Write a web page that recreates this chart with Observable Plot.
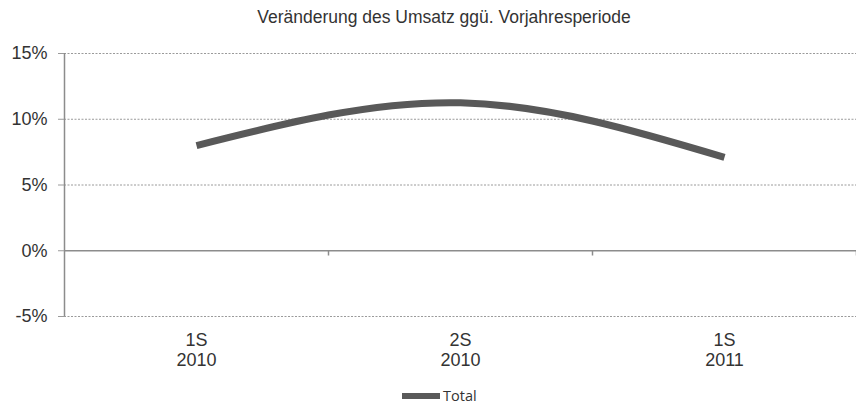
<!DOCTYPE html>
<html>
<head>
<meta charset="utf-8">
<script src="https://cdn.jsdelivr.net/npm/d3@7"></script>
<script src="https://cdn.jsdelivr.net/npm/@observablehq/plot@0.6"></script>
<style>
  body { margin: 0; background: #fff; font-family: "Liberation Sans", Arial, sans-serif; }
  #wrap { position: relative; width: 856px; height: 405px; }
  #title { position: absolute; left: 32px; top: 6px; width: 824px; text-align: center; font-size: 17.5px; color: #333; line-height: 22px; }
  #chart { position: absolute; left: 0; top: 34px; }
  #legend { position: absolute; left: 402px; top: 386px; display: flex; align-items: center; font-family: "Open Sans", "Liberation Sans", sans-serif; font-size: 14.5px; color: #333; line-height: 20px; }
  #legend .sw { display: inline-block; width: 38px; height: 6px; background: #595959; margin-right: 3px; }
</style>
</head>
<body>
<div id="wrap">
  <div id="title">Veränderung des Umsatz ggü. Vorjahresperiode</div>
  <div id="chart"></div>
  <div id="legend"><span class="sw"></span><span>Total</span></div>
</div>
<script>
const categories = ["1S\n2010", "2S\n2010", "1S\n2011"];
const totalValues = [8.0, 11.25, 7.1];
const yTicks = [-5, 0, 5, 10, 15];
const seriesName = "Total";

const data = categories.map((c, i) => ({ pos: i + 0.5, label: c, value: totalValues[i] }));
const boundaries = d3.range(1, categories.length + 1);

const plot = Plot.plot({
  width: 856,
  height: 344,
  marginLeft: 64,
  marginRight: 0,
  marginTop: 19,
  marginBottom: 62,
  x: { domain: [0, categories.length], axis: null, label: null },
  y: { domain: [-5, 15], axis: null, label: null },
  style: { fontFamily: "Liberation Sans, Arial, sans-serif", color: "#333", background: "#fff" },
  marks: [
    Plot.ruleY(yTicks.filter(d => d !== 0), { x1: 0, x2: categories.length, stroke: "#9a9a9a", strokeDasharray: "2,1.5", strokeWidth: 1, strokeOpacity: 1 }),
    Plot.ruleY([0], { x1: 0, x2: categories.length, stroke: "#8c8c8c", strokeWidth: 1.5 }),
    Plot.ruleX(boundaries, { y1: 0, y2: -0.4, stroke: "#8c8c8c", strokeWidth: 1.5 }),
    Plot.ruleX([0], { y1: -5, y2: 15, stroke: "#8c8c8c", strokeWidth: 1.5 }),
    Plot.axisY({ ticks: yTicks, tickSize: 6, tickPadding: 11, tickFormat: d => d + "%", fontSize: 18, stroke: "#9a9a9a", strokeOpacity: 1, color: "#333", label: null }),
    Plot.axisX({ ticks: data.map(d => d.pos), tickFormat: (d, i) => categories[i], tickSize: 0, tickPadding: 15, fontSize: 18, lineHeight: 1.12, color: "#333", label: null }),
    Plot.line(data, { x: "pos", y: "value", curve: "natural", stroke: "#595959", strokeWidth: 7, strokeLinecap: "butt" })
  ]
});
document.getElementById("chart").appendChild(plot);
</script>
</body>
</html>
